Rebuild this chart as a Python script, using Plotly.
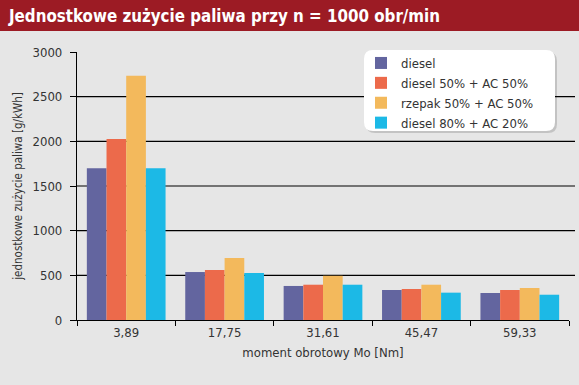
import plotly.graph_objects as go

categories = ["3,89", "17,75", "31,61", "45,47", "59,33"]
series_names = ["diesel", "diesel 50% + AC 50%", "rzepak 50% + AC 50%", "diesel 80% + AC 20%"]
diesel = [1700, 537, 381, 336, 302]
diesel50_ac50 = [2025, 560, 395, 347, 336]
rzepak50_ac50 = [2735, 694, 495, 395, 358]
diesel80_ac20 = [1700, 526, 395, 306, 283]
series_values = [diesel, diesel50_ac50, rzepak50_ac50, diesel80_ac20]
colors = ["#63659f", "#ec6a4b", "#f3b95c", "#1cb9e6"]
y_ticks = [0, 500, 1000, 1500, 2000, 2500, 3000]
grid_vals = [500, 1000, 1500, 2000, 2500]

FONT = "DejaVu Sans Condensed, Liberation Sans Narrow, Liberation Sans, sans-serif"
W, H = 579, 385
ML, MR, MT, MB = 77, 10, 52, 65
PW, PH = W - ML - MR, H - MT - MB

fig = go.Figure()
for name, vals, col in zip(series_names, series_values, colors):
    fig.add_trace(go.Bar(x=categories, y=vals, name=name, marker=dict(color=col, line=dict(width=0))))

def px_x(p):
    return (p - ML) / PW

def px_y(p):
    return (H - MB - p) / PH

shapes = []
# title banner
shapes.append(dict(type="rect", xref="paper", yref="paper",
                   x0=px_x(-2), x1=px_x(W + 2), y0=px_y(31), y1=px_y(-2),
                   fillcolor="#9c1b24", line=dict(width=0), layer="below"))
# gridlines
for g in grid_vals:
    shapes.append(dict(type="line", xref="paper", yref="y", x0=0, x1=px_x(575), y0=g, y1=g,
                       line=dict(color="black", width=1.2), layer="below"))
# legend rounded box with shadow
def rrect(x0, y0, x1, y1, r):
    X0, X1 = px_x(x0), px_x(x1)
    Y0, Y1 = px_y(y0), px_y(y1)
    rx, ry = r / PW, r / PH
    return (f"M{X0+rx},{Y0} L{X1-rx},{Y0} Q{X1},{Y0} {X1},{Y0-ry} "
            f"L{X1},{Y1+ry} Q{X1},{Y1} {X1-rx},{Y1} L{X0+rx},{Y1} "
            f"Q{X0},{Y1} {X0},{Y1+ry} L{X0},{Y0-ry} Q{X0},{Y0} {X0+rx},{Y0} Z")
shapes.append(dict(type="path", xref="paper", yref="paper", path=rrect(366, 52, 557, 133, 9),
                   fillcolor="rgba(0,0,0,0.15)", line=dict(width=0), layer="above"))
shapes.append(dict(type="path", xref="paper", yref="paper", path=rrect(364, 50, 555, 131, 9),
                   fillcolor="white", line=dict(width=0), layer="above"))

fig.update_layout(
    width=W, height=H,
    margin=dict(l=ML, r=MR, t=MT, b=MB),
    paper_bgcolor="#e6e6e6", plot_bgcolor="#e6e6e6",
    font=dict(family=FONT, size=13, color="#333333"),
    barmode="group", bargap=0.2, bargroupgap=0,
    showlegend=True,
    legend=dict(x=px_x(361), y=px_y(48), xanchor="left", yanchor="top",
                bgcolor="rgba(0,0,0,0)", font=dict(family=FONT, size=13, color="#333333"),
                tracegroupgap=0, itemwidth=30),
    shapes=shapes,
    annotations=[dict(text="<b>Jednostkowe zużycie paliwa przy n = 1000 obr/min</b>",
                      xref="paper", yref="paper", x=px_x(6), y=px_y(16), xanchor="left", yanchor="middle",
                      showarrow=False, font=dict(family=FONT, size=16.8, color="white"))],
    xaxis=dict(type="category", showline=True, linecolor="black", linewidth=1.2, automargin=False,
               ticks="outside", ticklen=5, tickcolor="black", tickson="boundaries",
               showgrid=False, tickfont=dict(size=13),
               title=dict(text="moment obrotowy Mo [Nm]", font=dict(size=13), standoff=9)),
    yaxis=dict(range=[0, 3000], tickvals=y_ticks, showline=True, linecolor="black", linewidth=1.2,
               automargin=False, ticklabelstandoff=5,
               ticks="outside", ticklen=6, tickcolor="black", showgrid=False, zeroline=False,
               tickfont=dict(size=13),
               title=dict(text="jednostkowe zużycie paliwa [g/kWh]", font=dict(size=11.5), standoff=7)),
)

fig.write_html("out.html", config={"displayModeBar": False},
               post_script="document.body.style.margin='0';document.body.style.background='#e6e6e6';")
